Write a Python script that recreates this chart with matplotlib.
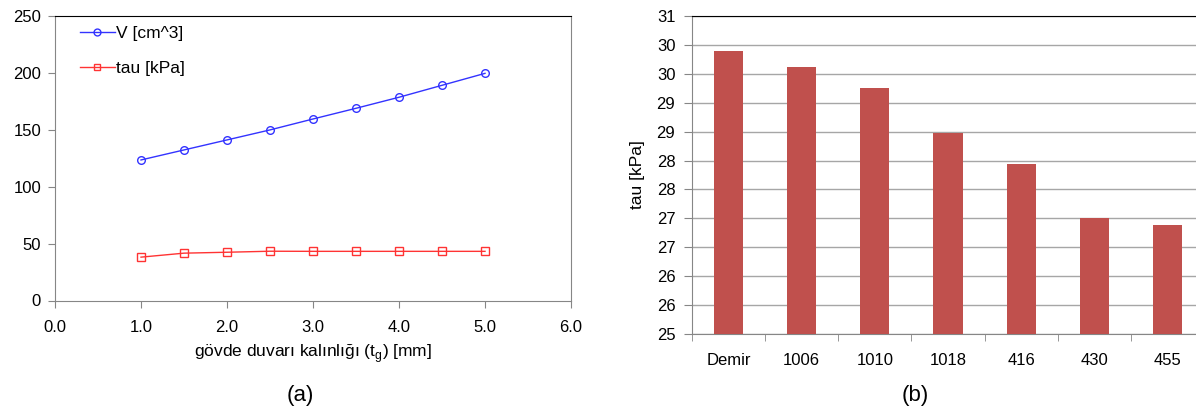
import matplotlib
matplotlib.use("Agg")
import matplotlib.pyplot as plt
import numpy as np

plt.rcParams['font.family'] = ['Liberation Sans', 'DejaVu Sans']

# ---- data (a) ----
thickness = [1.0, 1.5, 2.0, 2.5, 3.0, 3.5, 4.0, 4.5, 5.0]
volume = [123.5, 132.3, 141.1, 149.9, 159.5, 168.9, 178.6, 189.1, 199.6]
tau_line = [38.1, 41.6, 42.4, 43.3, 43.2, 43.2, 43.2, 43.2, 43.2]
xticks_a = [0.0, 1.0, 2.0, 3.0, 4.0, 5.0, 6.0]
yticks_a = [0, 50, 100, 150, 200, 250]

# ---- data (b) ----
materials = ["Demir", "1006", "1010", "1018", "416", "430", "455"]
tau_bar = [29.90, 29.61, 29.25, 28.47, 27.94, 27.01, 26.89]
yticks_b = [25.0, 25.5, 26.0, 26.5, 27.0, 27.5, 28.0, 28.5, 29.0, 29.5, 30.0, 30.5]
yticklabels_b = ["25", "26", "26", "27", "27", "28", "28", "29", "29", "30", "30", "31"]

W, H = 1196, 412
fig = plt.figure(figsize=(W / 100, H / 100), dpi=100)

def frac(x0, y0, x1, y1):
    return [x0 / W, 1 - y1 / H, (x1 - x0) / W, (y1 - y0) / H]

gray = "#868686"

# ---- (a) ----
ax1 = fig.add_axes(frac(55, 16, 571, 300.5))
ax1.plot(thickness, volume, color="#3333FF", lw=1.0, marker="o", ms=5.5,
         mfc="none", mec="#3333FF", mew=1.0, label="V [cm^3]")
ax1.plot(thickness, tau_line, color="#FF3333", lw=1.0, marker="s", ms=5.5,
         mfc="none", mec="#FF3333", mew=1.0, label="tau [kPa]")
ax1.set_xlim(0, 6)
ax1.set_ylim(0, 250)
ax1.set_xticks(xticks_a)
ax1.set_xticklabels([f"{v:.1f}" for v in xticks_a])
ax1.set_yticks(yticks_a)
ax1.tick_params(axis="both", labelsize=12, length=5, color=gray, direction="out")
ax1.tick_params(axis="x", pad=9)
ax1.tick_params(axis="y", pad=5)
for s in ["left", "bottom", "right"]:
    ax1.spines[s].set_color(gray)
ax1.spines["top"].set_color("black")
ax1.set_xlabel("gövde duvarı kalınlığı (t$_\\mathregular{g}$) [mm]", fontsize=12.5, labelpad=5)
leg = ax1.legend(loc="upper left", frameon=False, fontsize=12.5, handlelength=2.0,
                 handletextpad=0.05, labelspacing=1.15, borderaxespad=0.0,
                 bbox_to_anchor=(0.035, 0.99), markerscale=0.9)

fig.text(300 / W, 1 - 395 / H, "(a)", fontsize=16, ha="center", va="center")

# ---- (b) ----
ax2 = fig.add_axes(frac(692, 16, 1204, 334))
x = np.arange(len(materials))
ax2.bar(x, [t - 25 for t in tau_bar], bottom=25, width=0.4, color="#C0504D", zorder=3)
ax2.set_xlim(-0.5, len(materials) - 0.5)
ax2.set_ylim(25, 30.5)
ax2.set_yticks(yticks_b)
ax2.set_yticklabels(yticklabels_b)
ax2.set_xticks(x)
ax2.set_xticklabels(materials)
ax2.set_xticks(np.arange(-0.5, len(materials), 1.0), minor=True)
ax2.tick_params(axis="x", which="major", length=0, labelsize=12, pad=14)
ax2.tick_params(axis="x", which="minor", length=5, color=gray)
ax2.tick_params(axis="y", labelsize=12, length=6, color=gray, pad=6)
ax2.yaxis.grid(True, color="#A6A6A6", lw=1.0, zorder=0)
ax2.spines["right"].set_visible(False)
ax2.spines["left"].set_color(gray)
ax2.spines["bottom"].set_color(gray)
ax2.spines["top"].set_color("black")
ax2.set_ylabel("tau [kPa]", fontsize=12.5, labelpad=8)

fig.text(915 / W, 1 - 395 / H, "(b)", fontsize=16, ha="center", va="center")

fig.savefig("out.png", dpi=100)
